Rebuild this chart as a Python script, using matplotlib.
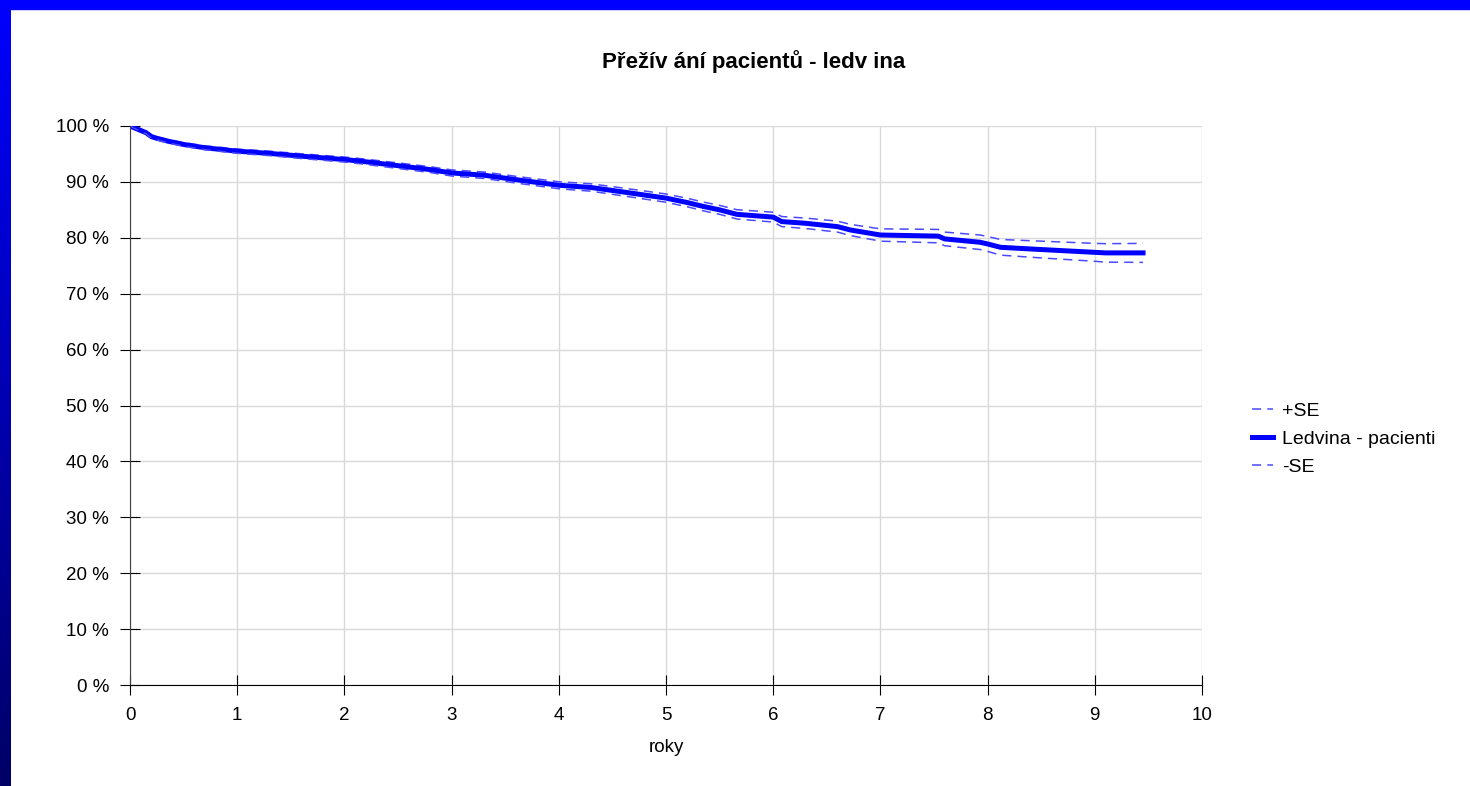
import numpy as np
import matplotlib
matplotlib.use("Agg")
import matplotlib.pyplot as plt
from matplotlib.patches import Rectangle

plt.rcParams['font.family'] = ['Liberation Sans', 'DejaVu Sans']

# roky / preziti v %
roky = [0, 0.05, 0.1, 0.15, 0.2, 0.25, 0.35, 0.5, 0.7, 1.0, 1.3, 1.6, 2.0, 2.2,
        2.5, 2.8, 3.0, 3.3, 3.6, 4.0, 4.3, 4.6, 5.0, 5.2, 5.35, 5.5, 5.66, 6.0,
        6.08, 6.3, 6.6, 6.72, 7.0, 7.54, 7.6, 7.93, 8.0, 8.12, 8.5, 9.0, 9.1, 9.45]
preziti = [100, 99.6, 99.2, 98.8, 98.1, 97.8, 97.3, 96.7, 96.1, 95.5, 95.1, 94.6,
           94.0, 93.6, 92.9, 92.2, 91.6, 91.2, 90.4, 89.4, 89.0, 88.2, 87.1, 86.3,
           85.6, 85.0, 84.2, 83.7, 82.9, 82.6, 82.0, 81.4, 80.5, 80.3, 79.8, 79.2,
           78.9, 78.3, 77.9, 77.4, 77.3, 77.3]
se = [0, 0.1, 0.15, 0.2, 0.25, 0.27, 0.3, 0.32, 0.35, 0.38, 0.4, 0.42, 0.45, 0.47,
      0.5, 0.52, 0.55, 0.57, 0.6, 0.63, 0.66, 0.7, 0.74, 0.76, 0.78, 0.8, 0.83,
      0.88, 0.9, 0.93, 0.98, 1.0, 1.1, 1.2, 1.22, 1.3, 1.33, 1.4, 1.5, 1.6, 1.65, 1.7]

x = np.array(roky)
s = np.array(preziti)
e = np.array(se)

fig = plt.figure(figsize=(14.7, 7.86), dpi=100)

# modry ramecek
grad = fig.add_axes([0, 0, 11 / 1470, 1])
g = np.linspace(0, 1, 256).reshape(-1, 1)
cmap = matplotlib.colors.LinearSegmentedColormap.from_list('b', ['#000066', '#0000ff'])
grad.imshow(g, aspect='auto', cmap=cmap, origin='lower')
grad.axis('off')
fig.patches.append(Rectangle((0, 1 - 9 / 786), 1, 9 / 786, transform=fig.transFigure,
                             color='#0000ff', zorder=5))

ax = fig.add_axes([130 / 1470, 101 / 786, 1072 / 1470, 559 / 786])
ax.plot(x, s + e, color='#4a4aff', lw=1.1, dashes=(6, 4), label='+SE')
ax.plot(x, s, color='#0000ff', lw=3.6, label='Ledvina - pacienti')
ax.plot(x, s - e, color='#4a4aff', lw=1.1, dashes=(6, 4), label='-SE')

ax.set_xlim(0, 10)
ax.set_ylim(0, 100)
ax.set_xticks(range(0, 11))
ax.set_yticks(range(0, 101, 10))
ax.set_yticklabels([f'{v} %' for v in range(0, 101, 10)])
ax.grid(True, color='#d9d9d9', lw=1)
ax.set_axisbelow(True)
for sp in ['top', 'right']:
    ax.spines[sp].set_visible(False)
ax.spines['left'].set_color('#404040')
ax.spines['bottom'].set_color('black')
ax.tick_params(direction='inout', length=14, labelsize=13.5)
ax.tick_params(axis='y', pad=8)
ax.tick_params(axis='x', pad=9)
ax.set_xlabel('roky', fontsize=13.5, labelpad=11)

fig.text(754 / 1470, 1 - 62 / 786, 'Přežív ání pacientů - ledv ina', ha='center', va='center',
         fontsize=16, fontweight='bold')

ax.legend(loc='center left', bbox_to_anchor=(1.03, 0.44), frameon=False, fontsize=14,
          handlelength=1.1, handletextpad=0.45, labelspacing=0.55)

fig.savefig('out.png', dpi=100)
